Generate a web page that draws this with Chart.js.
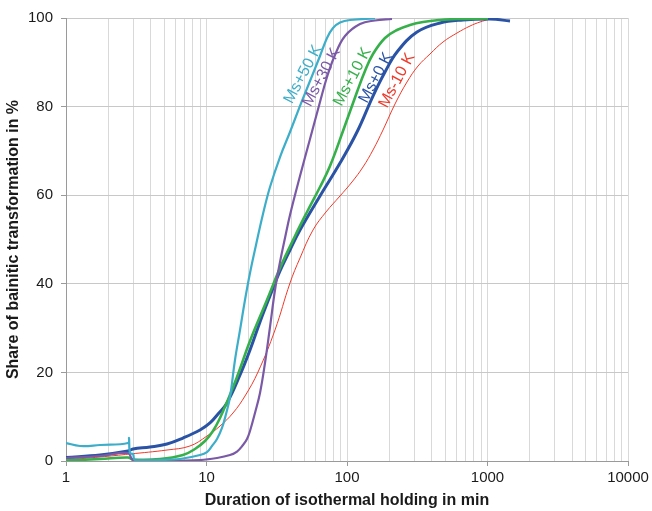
<!DOCTYPE html>
<html>
<head>
<meta charset="utf-8">
<script src="https://cdn.jsdelivr.net/npm/chart.js@4/dist/chart.umd.min.js"></script>
<style>
  html, body { margin: 0; padding: 0; background: #fff; }
  #wrap { width: 652px; height: 511px; }
</style>
</head>
<body>
<div id="wrap"><canvas id="c" width="652" height="511"></canvas></div>
<script>
// ---- Data ----
const seriesNames = ['Ms+50 K', 'Ms+30 K', 'Ms+10 K', 'Ms+0 K', 'Ms-10 K'];

const ms50X = [1, 1.258, 1.746, 2.763, 2.808, 2.854, 2.999, 3.098, 4.667, 6.478, 8.99, 10.08, 10.94, 11.88, 12.89, 13.77, 14.7, 15.95, 17.32, 18.79, 20.4, 22.51, 25.24, 28.31, 33.36, 39.29, 46.29, 54.54, 64.24, 72.06, 79.5, 89.18, 105.05, 158.2];
const ms50Y = [4.06, 3.39, 3.61, 4.06, 5.19, 1.81, 1.58, 0.23, 0.23, 0.45, 1.35, 2.03, 3.39, 4.97, 7.45, 10.61, 14.45, 22.8, 29.57, 36.34, 42.44, 48.76, 55.76, 61.85, 68.62, 74.27, 80.14, 85.78, 91.42, 95.49, 97.74, 98.98, 99.55, 99.89];

const ms30X = [1, 1.746, 2.763, 2.999, 4.667, 8.99, 11.88, 14.7, 16.49, 18.19, 19.42, 20.4, 22.14, 24.03, 26.08, 28.31, 30.73, 33.36, 36.2, 39.29, 46.29, 54.54, 64.24, 72.06, 82.13, 96.78, 123.8, 158.2, 209.1];
const ms30Y = [0.68, 1.13, 1.81, 0.23, 0.1, 0.23, 0.68, 1.35, 2.14, 3.61, 4.97, 6.77, 10.84, 15.35, 22.12, 30.25, 38.6, 44.92, 50.34, 55.53, 64.33, 72.69, 81.04, 86.68, 91.65, 95.94, 98.65, 99.44, 99.77];

const ms10X = [1, 1.746, 2.763, 2.999, 4.667, 6.803, 8.28, 9.76, 11.12, 12.48, 13.99, 16.49, 20.4, 26.95, 33.36, 42.65, 51.92, 64.24, 75.68, 93.65, 117.8, 134.3, 153.1, 186.4, 226.9, 280.8, 347.5, 459.1, 606.6, 1008];
const ms10Y = [0.1, 0.45, 0.8, 0.35, 0.45, 1.35, 2.71, 4.51, 6.77, 9.71, 13.32, 18.96, 27.09, 36.34, 43.57, 50.79, 56.21, 61.85, 66.59, 74.49, 83.3, 88.04, 91.87, 95.49, 97.29, 98.42, 99.1, 99.55, 99.77, 99.89];

const ms0X = [1, 1.746, 2.763, 2.999, 3.96, 5.235, 6.803, 8.99, 10.59, 12.08, 13.99, 17.32, 20.4, 24.03, 28.31, 33.36, 39.29, 46.29, 64.24, 89.18, 117.8, 153.1, 186.4, 226.9, 314.9, 459.1, 669.4, 1042, 1446];
const ms0Y = [0.8, 1.35, 2.26, 2.71, 3.16, 3.84, 5.19, 7.0, 8.58, 10.61, 13.09, 19.41, 25.06, 31.38, 37.25, 42.89, 47.63, 52.14, 59.82, 67.27, 74.27, 82.39, 87.81, 92.33, 96.84, 98.87, 99.55, 99.77, 99.32];

const msm10X = [1, 1.746, 2.854, 5.235, 7.63, 10.08, 12.48, 15.44, 18.79, 23.26, 30.73, 39.29, 46.29, 57.28, 70.88, 89.18, 108.5, 130.0, 153.1, 180.4, 219.6, 267.3, 320.2, 389.6, 482.4, 606.6, 750.7, 884.5, 1042];
const msm10Y = [0.23, 0.9, 1.58, 2.48, 3.39, 5.64, 7.9, 10.84, 14.67, 20.09, 29.57, 40.18, 45.82, 52.14, 56.21, 59.82, 62.98, 66.37, 70.2, 74.72, 80.59, 85.55, 89.16, 91.87, 94.58, 96.61, 98.19, 99.1, 99.77];

const xTickLabels = ['1', '10', '100', '1000', '10000'];
const yTickValues = [0, 20, 40, 60, 80, 100];

// ---- Styling ----
const colors = ['#3daec9', '#7a5aa6', '#35b04a', '#2a53a5', '#ee3a2a'];
const widths = [2.2, 2.2, 2.6, 3, 1];
const xs = [ms50X, ms30X, ms10X, ms0X, msm10X];
const ys = [ms50Y, ms30Y, ms10Y, ms0Y, msm10Y];

// in-chart series labels: anchor in data coordinates
const seriesLabelAnchors = [
  { x: 48.7, y: 87.3 },
  { x: 65.9, y: 86.6 },
  { x: 109.5, y: 86.7 },
  { x: 161, y: 86.5 },
  { x: 227, y: 85.9 }
];

const FONT = "'Liberation Sans', Arial, Helvetica, sans-serif";

const datasets = seriesNames.map((name, i) => ({
  label: name,
  data: xs[i].map((x, j) => ({ x: x, y: ys[i][j] })),
  borderColor: colors[i],
  backgroundColor: colors[i],
  borderWidth: widths[i],
  pointRadius: 0,
  tension: 0.4,
  fill: false
}));

const seriesLabelPlugin = {
  id: 'seriesLabels',
  afterDatasetsDraw(chart) {
    const { ctx, scales } = chart;
    ctx.save();
    ctx.font = '16px ' + FONT;
    ctx.textAlign = 'center';
    ctx.textBaseline = 'middle';
    seriesNames.forEach((name, i) => {
      const a = seriesLabelAnchors[i];
      const px = scales.x.getPixelForValue(a.x);
      const py = scales.y.getPixelForValue(a.y);
      ctx.save();
      ctx.translate(px, py);
      ctx.rotate(-62 * Math.PI / 180);
      ctx.fillStyle = colors[i];
      ctx.fillText(name, 0, 0);
      ctx.restore();
    });
    ctx.restore();
  }
};

new Chart(document.getElementById('c'), {
  type: 'line',
  data: { datasets },
  options: {
    responsive: false,
    animation: false,
    events: [],
    layout: { padding: { left: 0, right: 24, top: 18, bottom: 0 } },
    plugins: { legend: { display: false }, tooltip: { enabled: false } },
    scales: {
      x: {
        type: 'logarithmic',
        min: 1,
        max: 10000,
        afterBuildTicks(scale) {
          const t = [];
          for (let d = 1; d <= 1000; d *= 10) {
            for (let k = 1; k <= 9; k++) t.push({ value: k * d });
          }
          t.push({ value: 10000 });
          scale.ticks = t;
        },
        afterFit(scale) { scale.height = 50; },
        ticks: {
          autoSkip: false,
          maxRotation: 0,
          padding: 3,
          color: '#1a1a1a',
          font: { family: FONT, size: 15 },
          callback(value) {
            const l = Math.log10(value);
            if (Math.abs(l - Math.round(l)) < 1e-9) return xTickLabels[Math.round(l)];
            return '';
          }
        },
        grid: {
          color: '#d9d9d9',
          lineWidth: 1,
          tickLength: 5,
          tickColor(ctx) {
            const v = ctx.tick ? ctx.tick.value : 0;
            const l = Math.log10(v);
            return Math.abs(l - Math.round(l)) < 1e-9 ? '#9a9a9a' : 'rgba(0,0,0,0)';
          }
        },
        border: { color: '#9a9a9a', width: 1 },
        title: {
          display: true,
          text: 'Duration of isothermal holding in min',
          color: '#1a1a1a',
          font: { family: FONT, size: 16, weight: 'bold' },
          padding: { top: 0, bottom: 1 }
        }
      },
      y: {
        type: 'linear',
        min: 0,
        max: 100,
        afterBuildTicks(scale) { scale.ticks = yTickValues.map(v => ({ value: v })); },
        afterFit(scale) { scale.width = 66; },
        ticks: {
          padding: 8,
          color: '#1a1a1a',
          font: { family: FONT, size: 15 }
        },
        grid: {
          color: '#c8c8c8',
          lineWidth: 1,
          tickLength: 5,
          tickColor: '#9a9a9a'
        },
        border: { color: '#9a9a9a', width: 1 },
        title: {
          display: true,
          text: 'Share of bainitic transformation in %',
          color: '#1a1a1a',
          font: { family: FONT, size: 16, weight: 'bold' },
          padding: { top: 4, bottom: 0 }
        }
      }
    }
  },
  plugins: [seriesLabelPlugin]
});
</script>
</body>
</html>
